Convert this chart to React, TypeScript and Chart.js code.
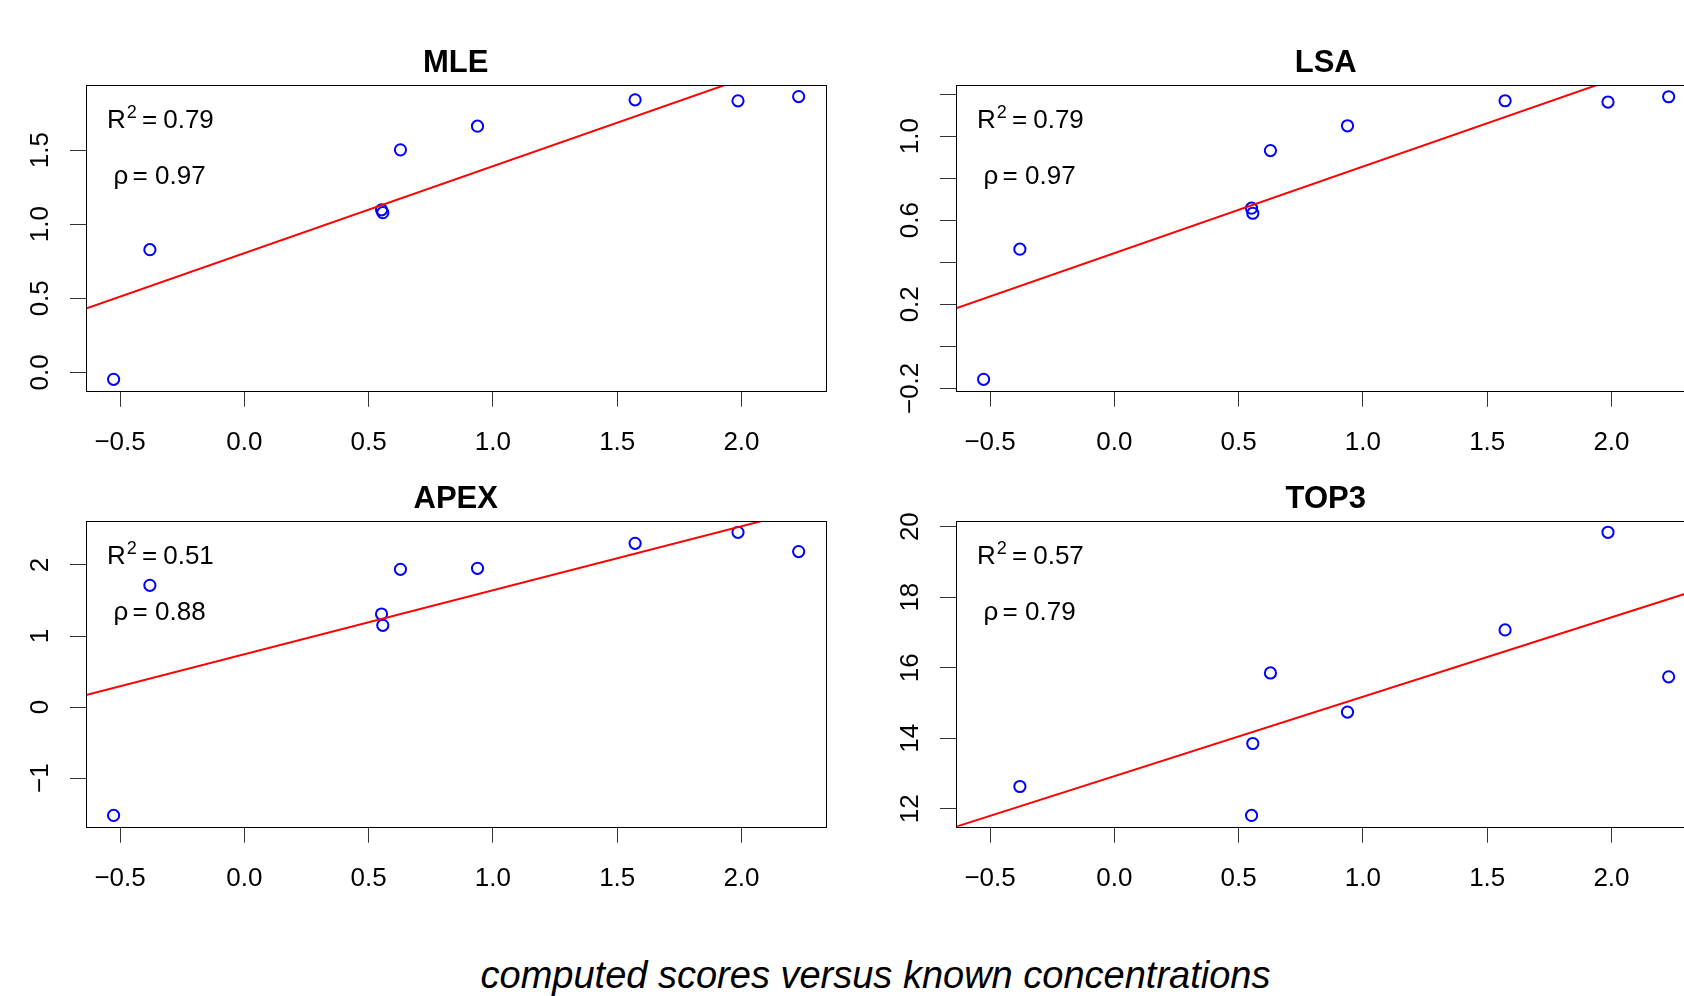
import React, { useEffect, useRef } from "react";
import { Chart, registerables } from "chart.js";

Chart.register(...registerables);

const FONT = '"Liberation Sans", Arial, Helvetica, sans-serif';

// known concentrations (x, shared by all panels)
const concentrations = [-0.526, -0.38, 0.552, 0.557, 0.628, 0.938, 1.572, 1.986, 2.23];

// computed scores per method
const mleScores = [-0.047, 0.828, 1.097, 1.078, 1.502, 1.662, 1.84, 1.833, 1.862];
const lsaScores = [-0.157, 0.462, 0.657, 0.633, 0.931, 1.049, 1.168, 1.162, 1.187];
const apexScores = [-1.525, 1.714, 1.31, 1.15, 1.939, 1.953, 2.305, 2.46, 2.188];
const top3Scores = [null, 12.63, 11.81, 13.85, 15.85, 14.74, 17.07, 19.84, 15.74];

// fitted regression lines (intercept, slope)
const fitIntercepts = [0.805, 0.443, 0.743, 12.924];
const fitSlopes = [0.587, 0.412, 0.901, 2.251];

// statistics
const r2Values = ["0.79", "0.79", "0.51", "0.57"];
const rhoValues = ["0.97", "0.97", "0.88", "0.79"];

const panelTitles = ["MLE", "LSA", "APEX", "TOP3"];

// axes
const xRange = [-0.637, 2.338];
const xTicks = [-0.5, 0, 0.5, 1, 1.5, 2];
const xTickLabels = ["\u22120.5", "0.0", "0.5", "1.0", "1.5", "2.0"];

const mleYRange = [-0.124, 1.94];
const mleYTicks = [0, 0.5, 1, 1.5];
const mleYLabels = ["0.0", "0.5", "1.0", "1.5"];

const lsaYRange = [-0.211, 1.243];
const lsaYTicks = [-0.2, 0, 0.2, 0.4, 0.6, 0.8, 1.0, 1.2];
const lsaYLabels = ["\u22120.2", "", "0.2", "", "0.6", "", "1.0", ""];

const apexYRange = [-1.684, 2.619];
const apexYTicks = [-1, 0, 1, 2];
const apexYLabels = ["\u22121", "0", "1", "2"];

const top3YRange = [11.49, 20.16];
const top3YTicks = [12, 14, 16, 18, 20];
const top3YLabels = ["12", "14", "16", "18", "20"];

const footerText = "computed scores versus known concentrations";

const panels = [
  { scores: mleScores, yRange: mleYRange, yTicks: mleYTicks, yLabels: mleYLabels, left: 0, top: 0 },
  { scores: lsaScores, yRange: lsaYRange, yTicks: lsaYTicks, yLabels: lsaYLabels, left: 870, top: 0 },
  { scores: apexScores, yRange: apexYRange, yTicks: apexYTicks, yLabels: apexYLabels, left: 0, top: 436 },
  { scores: top3Scores, yRange: top3YRange, yTicks: top3YTicks, yLabels: top3YLabels, left: 870, top: 436 },
];

const CW = 842;
const CH = 480;

const decorPlugin = {
  id: "decor",
  afterDraw(chart: any, _args: any, opts: any) {
    const { ctx, chartArea: a, scales } = chart;
    const idx = opts.idx as number;
    const p = panels[idx];
    ctx.save();
    ctx.strokeStyle = "#000";
    ctx.lineWidth = 1;
    ctx.strokeRect(
      Math.round(a.left) + 0.5,
      Math.round(a.top) + 0.5,
      Math.round(a.right - a.left),
      Math.round(a.bottom - a.top)
    );
    ctx.fillStyle = "#000";
    ctx.textBaseline = "alphabetic";
    // title
    ctx.font = `bold 31px ${FONT}`;
    ctx.textAlign = "center";
    ctx.fillText(panelTitles[idx], (a.left + a.right) / 2, a.top - 13.3);
    // x tick labels
    ctx.font = `26px ${FONT}`;
    xTicks.forEach((v, i) => {
      ctx.fillText(xTickLabels[i], scales.x.getPixelForValue(v), a.bottom + 59.5);
    });
    // y tick labels (rotated)
    p.yTicks.forEach((v, i) => {
      const lab = p.yLabels[i];
      if (!lab) return;
      const y = scales.y.getPixelForValue(v);
      ctx.save();
      ctx.translate(a.left - 38.5, y);
      ctx.rotate(-Math.PI / 2);
      ctx.fillText(lab, 0, 0);
      ctx.restore();
    });
    // stats text
    ctx.textAlign = "left";
    ctx.font = `26px ${FONT}`;
    ctx.fillText("R", a.left + 21, a.top + 43.3);
    ctx.fillText("=", a.left + 56, a.top + 43.3);
    ctx.fillText(r2Values[idx], a.left + 77.2, a.top + 43.3);
    ctx.fillText("\u03c1", a.left + 27.5, a.top + 99.3);
    ctx.fillText("=", a.left + 46.5, a.top + 99.3);
    ctx.fillText(rhoValues[idx], a.left + 69, a.top + 99.3);
    ctx.font = `18px ${FONT}`;
    ctx.fillText("2", a.left + 40.8, a.top + 32.7);
    ctx.restore();
  },
};

function Panel({ idx }: { idx: number }) {
  const ref = useRef<HTMLCanvasElement>(null);
  useEffect(() => {
    const p = panels[idx];
    const pts = concentrations
      .map((x, i) => ({ x, y: p.scores[i] }))
      .filter((d) => d.y !== null && d.y !== undefined);
    const a = fitIntercepts[idx];
    const b = fitSlopes[idx];
    const linePts = [
      { x: xRange[0], y: a + b * xRange[0] },
      { x: xRange[1], y: a + b * xRange[1] },
    ];
    const axisCommon = {
      type: "linear" as const,
      border: { display: false },
      grid: {
        display: true,
        drawOnChartArea: false,
        drawTicks: true,
        tickLength: 16,
        color: "#333",
        lineWidth: 1,
      },
      ticks: { display: false },
    };
    const chart = new Chart(ref.current!, {
      type: "scatter",
      data: {
        datasets: [
          {
            data: linePts,
            showLine: true,
            borderColor: "#ff0000",
            borderWidth: 2,
            pointRadius: 0,
            clip: 0,
          } as any,
          {
            data: pts,
            pointStyle: "circle",
            pointRadius: 5.6,
            pointBorderWidth: 2,
            borderColor: "#0000ff",
            backgroundColor: "rgba(0,0,0,0)",
            showLine: false,
            clip: false,
          } as any,
        ],
      },
      options: {
        responsive: false,
        animation: false,
        devicePixelRatio: 1,
        events: [],
        layout: { padding: { left: 66, top: 85, right: CW - 825.5, bottom: CH - 390.7 - 20 } },
        plugins: {
          legend: { display: false },
          tooltip: { enabled: false },
          title: { display: false },
          decor: { idx },
        } as any,
        scales: {
          x: {
            ...axisCommon,
            position: "bottom",
            min: xRange[0],
            max: xRange[1],
            afterBuildTicks: (s: any) => {
              s.ticks = xTicks.map((v) => ({ value: v }));
            },
            afterFit: (s: any) => {
              s.height = 20;
            },
          },
          y: {
            ...axisCommon,
            position: "left",
            min: p.yRange[0],
            max: p.yRange[1],
            afterBuildTicks: (s: any) => {
              s.ticks = p.yTicks.map((v) => ({ value: v }));
            },
            afterFit: (s: any) => {
              s.width = 20;
            },
          },
        } as any,
      },
      plugins: [decorPlugin],
    });
    return () => chart.destroy();
  }, [idx]);
  const p = panels[idx];
  return (
    <canvas
      ref={ref}
      width={CW}
      height={CH}
      style={{ position: "absolute", left: p.left, top: p.top, width: CW, height: CH }}
    />
  );
}

export default function App() {
  return (
    <div
      style={{
        position: "fixed",
        left: 0,
        top: 0,
        width: 1684,
        height: 996,
        overflow: "hidden",
        background: "#fff",
      }}
    >
      {panels.map((_, i) => (
        <Panel key={i} idx={i} />
      ))}
      <div
        style={{
          position: "absolute",
          left: 0,
          top: 956,
          width: 1751,
          textAlign: "center",
          fontFamily: FONT,
          fontStyle: "italic",
          fontSize: 38,
          lineHeight: "38px",
          whiteSpace: "nowrap",
          color: "#000",
        }}
      >
        {footerText}
      </div>
    </div>
  );
}
